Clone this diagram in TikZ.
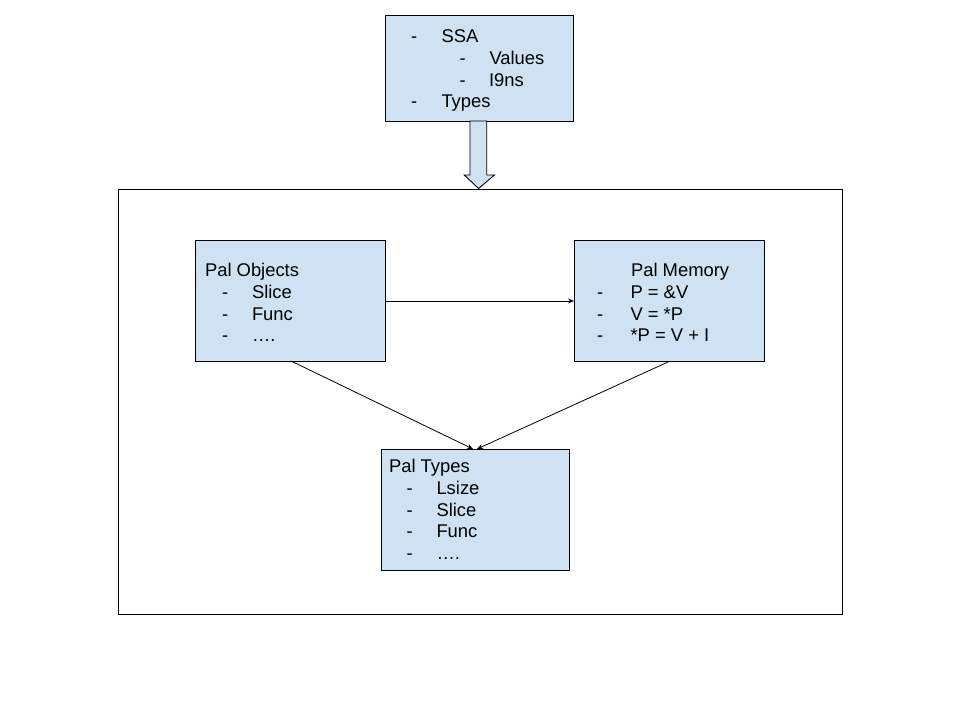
\documentclass[tikz,border=0pt]{standalone}
\usepackage{fontspec}
\setmainfont{Liberation Sans}
\usetikzlibrary{arrows.meta}
\definecolor{boxblue}{HTML}{CFE2F3}
\begin{document}
\begin{tikzpicture}[x=1pt,y=-1pt,
  box/.style={draw=black,line width=0.9pt,fill=boxblue},
  txt/.style={anchor=base west,inner sep=0pt,outer sep=0pt,font=\fontsize{18.4}{22}\selectfont},
  conn/.style={line width=0.8pt,-{Stealth[length=6pt,width=5pt]}}]
\useasboundingbox (0,0) rectangle (960,720);
% outer frame
\draw[line width=0.9pt] (118,189) rectangle (842,614);
% boxes
\draw[box] (385,15) rectangle (573,121);
\draw[box] (195,240) rectangle (385,361);
\draw[box] (574,240) rectangle (764,361);
\draw[box] (381,449) rectangle (569,570);
% named anchor points on box edges
\node[inner sep=0pt] (objR) at (385,301) {};
\node[inner sep=0pt] (memL) at (574,301) {};
\coordinate (objB) at (291,361);
\coordinate (memB) at (668,362);
\coordinate (typL) at (473,449);
\coordinate (typR) at (477,449);
% block arrow
\draw[box,line join=miter] (470,121) -- (486.7,121) -- (486.7,175) -- (494.5,175) -- (478.5,188.5) -- (464.3,175) -- (470,175) -- cycle;
% connectors
\draw[conn] (objR.center) -- (memL.center);
\draw[conn] (objB) -- (typL);
\draw[conn] (memB) -- (typR);
% top box text
\node[txt] (t1) at (411,42.5) {-};
\node[txt] (t2) at (441.5,42.5) {SSA};
\node[txt] (t3) at (459.5,64.5) {-};
\node[txt] (t4) at (489.5,64.5) {Values};
\node[txt] (t5) at (459.5,86) {-};
\node[txt] (t6) at (489,86) {I9ns};
\node[txt] (t7) at (411,107.5) {-};
\node[txt] (t8) at (441.5,107.5) {Types};
% Pal Objects
\node[txt] (o0) at (205,276) {Pal Objects};
\node[txt] (o1d) at (222,298) {-};
\node[txt] (o1) at (252,298) {Slice};
\node[txt] (o2d) at (222,320) {-};
\node[txt] (o2) at (252,320) {Func};
\node[txt] (o3d) at (222,341.5) {-};
\node[txt] (o3) at (252,341.5) {….};
% Pal Memory
\node[txt] (m0) at (631,276) {Pal Memory};
\node[txt] (m1d) at (597,298) {-};
\node[txt] (m1) at (630.5,298) {P = \&V};
\node[txt] (m2d) at (597,320) {-};
\node[txt] (m2) at (630.5,320) {V = *P};
\node[txt] (m3d) at (597,341.5) {-};
\node[txt] (m3) at (630.5,341.5) {*P = V + I};
% Pal Types
\node[txt] (p0) at (389,472) {Pal Types};
\node[txt] (p1d) at (406.5,494) {-};
\node[txt] (p1) at (436.5,494) {Lsize};
\node[txt] (p2d) at (406.5,516) {-};
\node[txt] (p2) at (436.5,516) {Slice};
\node[txt] (p3d) at (406.5,537.5) {-};
\node[txt] (p3) at (436.5,537.5) {Func};
\node[txt] (p4d) at (406.5,559.5) {-};
\node[txt] (p4) at (436.5,559.5) {….};
\end{tikzpicture}
\end{document}
